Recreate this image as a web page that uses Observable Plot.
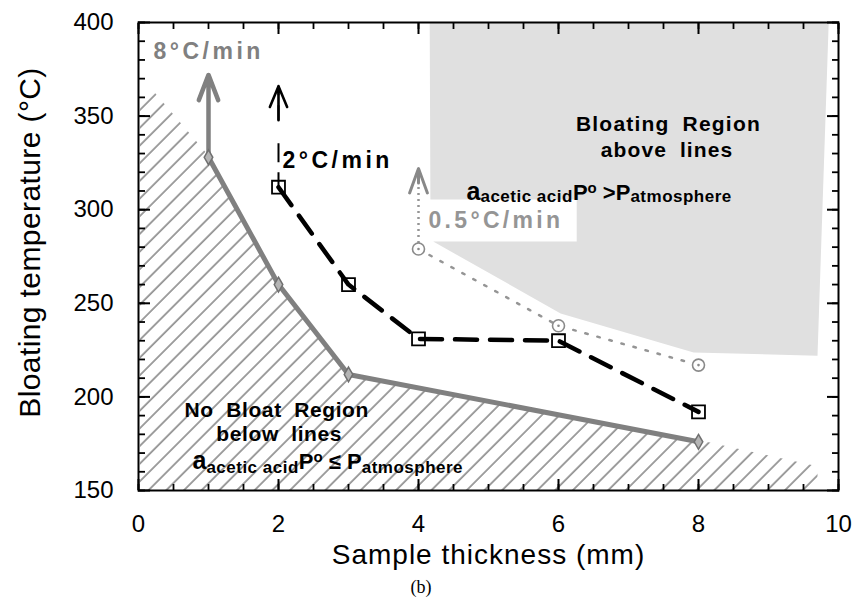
<!DOCTYPE html>
<html><head><meta charset="utf-8">
<script src="https://cdn.jsdelivr.net/npm/d3@7"></script>
<script src="https://cdn.jsdelivr.net/npm/@observablehq/plot@0.6"></script>
<style>
body{margin:0;background:#fff;}
#wrap{position:relative;width:857px;height:606px;background:#fff;}
#cap{position:absolute;left:0;top:577px;width:842px;text-align:center;font:18px "Liberation Serif","DejaVu Serif",serif;color:#000;}
</style></head><body><div id="wrap"><div id="chart"></div><div id="cap">(b)</div></div>
<script>
// ---- data ----
const thickness8 = [1, 2, 3, 8];
const temp8 = [328, 260, 212, 176];
const thickness2 = [2, 3, 4, 6, 8];
const temp2 = [312, 260, 231, 230, 192];
const thickness05 = [4, 6, 8];
const temp05 = [279, 238, 217];
const arrowThickness = [1, 2, 4];
const arrowFrom = [328, 312, 279];
const arrowTo = [372, 366, 322];
const rateLabels = ["8°C/min", "2°C/min", "0.5°C/min"];
const bloatRegionX = [4.16, 4.17, 6.26, 6.26, 4.21, 6.03, 7.93, 9.7, 9.86];
const bloatRegionY = [400, 305.4, 305.4, 283, 283, 244.6, 223.7, 222, 400];
const noBloatX = [0.02, 0.02, 0.2, 1, 2, 3, 8, 9.7, 9.7];
const noBloatY = [150, 356, 364, 329, 261, 213, 177, 163, 150];
const xMajor = [0, 2, 4, 6, 8, 10];
const xMinor = d3.range(0, 10.001, 0.5);
const yMajor = [150, 200, 250, 300, 350, 400];
const yMinor = d3.range(150, 400.001, 10);
const formulaAbove = ["a", "acetic acid", "P", "o", " >", "P", "atmosphere"];
const formulaBelow = ["a", "acetic acid", "P", "o", " \u2264 ", "P", "atmosphere"];
const formulaRoles = ["a", "sub", "base", "sup", "base", "base", "sub"];

const s8 = thickness8.map((x, i) => ({x, y: temp8[i]}));
const s2 = thickness2.map((x, i) => ({x, y: temp2[i]}));
const s05 = thickness05.map((x, i) => ({x, y: temp05[i]}));
const arrows = arrowThickness.map((x, i) => ({x, y1: arrowFrom[i], y2: arrowTo[i]}));
const bloat = bloatRegionX.map((x, i) => ({x, y: bloatRegionY[i]}));
const noBloat = noBloatX.map((x, i) => ({x, y: noBloatY[i]}));

const gray8 = "#808080", gray05 = "#959595";
const blank = () => "";

const svg = Plot.plot({
  width: 857, height: 575,
  marginLeft: 138, marginRight: 19, marginTop: 22, marginBottom: 85,
  x: {domain: [0, 10], label: null},
  y: {domain: [150, 400], label: null},
  style: {fontFamily: "'Liberation Sans', Arial, Helvetica, sans-serif", background: "#fff", color: "#000"},
  marks: [
    Plot.line(bloat, {x: "x", y: "y", fill: "#e0e0e0", stroke: null}),
    Plot.line(noBloat, {x: "x", y: "y", fill: "url(#hatch)", stroke: null}),
    // inward ticks on all four sides
    Plot.axisX({anchor: "bottom", ticks: xMinor, tickSize: -6, tickFormat: blank, label: null, strokeWidth: 1.8}),
    Plot.axisX({anchor: "bottom", ticks: xMajor, tickSize: -11, tickFormat: blank, label: null, strokeWidth: 2}),
    Plot.axisX({anchor: "top", ticks: xMinor, tickSize: -6, tickFormat: blank, label: null, strokeWidth: 1.8}),
    Plot.axisX({anchor: "top", ticks: xMajor, tickSize: -11, tickFormat: blank, label: null, strokeWidth: 2}),
    Plot.axisY({anchor: "left", ticks: yMinor, tickSize: -7, tickFormat: blank, label: null, strokeWidth: 1.8}),
    Plot.axisY({anchor: "left", ticks: yMajor, tickSize: -12, tickFormat: blank, label: null, strokeWidth: 2}),
    Plot.axisY({anchor: "right", ticks: yMinor, tickSize: -7, tickFormat: blank, label: null, strokeWidth: 1.8}),
    Plot.axisY({anchor: "right", ticks: yMajor, tickSize: -12, tickFormat: blank, label: null, strokeWidth: 2}),
    Plot.axisX({anchor: "bottom", ticks: xMajor, tickSize: 0, tickPadding: 24, fontSize: 24, label: null}),
    Plot.axisY({anchor: "left", ticks: yMajor, tickSize: 0, tickPadding: 25, fontSize: 24, label: null}),
    Plot.frame({stroke: "#000", strokeWidth: 2}),
    // 0.5 C/min
    Plot.line(s05, {x: "x", y: "y", stroke: gray05, strokeWidth: 2.5, strokeDasharray: "2.5,10"}),
    Plot.link([arrows[2]], {x1: "x", x2: "x", y1: "y1", y2: "y2", stroke: gray05, strokeWidth: 2.5, strokeDasharray: "2,4"}),
    Plot.arrow([arrows[2]], {x: "x", y1: "y1", y2: "y2", stroke: "#888", strokeWidth: 3, headLength: 13, headAngle: 40, insetStart: 66}),
    Plot.dot(s05, {x: "x", y: "y", r: 6, stroke: "#8a8a8a", strokeWidth: 1.6, fill: "#fff"}),
    Plot.dot(s05, {x: "x", y: "y", r: 1.3, fill: "#8a8a8a"}),
    // 2 C/min
    Plot.line(s2, {x: "x", y: "y", stroke: "#000", strokeWidth: 4.5, strokeDasharray: "22,13"}),
    Plot.link([arrows[1]], {x1: "x", x2: "x", y1: "y1", y2: "y2", stroke: "#000", strokeWidth: 2, strokeDasharray: "15,10,19,23"}),
    Plot.arrow([arrows[1]], {x: "x", y1: "y1", y2: "y2", stroke: "#000", strokeWidth: 2.6, headLength: 13, headAngle: 45, insetStart: 67}),
    Plot.dot(s2, {x: "x", y: "y", symbol: "square", r: 7.3, stroke: "#000", strokeWidth: 1.8, fill: "none"}),
    // 8 C/min
    Plot.line(s8, {x: "x", y: "y", stroke: gray8, strokeWidth: 5}),
    Plot.arrow([arrows[0]], {x: "x", y1: "y1", y2: "y2", stroke: gray8, strokeWidth: 4.5, headLength: 9, headAngle: 42}),
    Plot.dot(s8, {x: "x", y: "y", symbol: "diamond", r: 4.5, fill: "#b5b5b5", stroke: "#707070", strokeWidth: 1.5}),
    // rate labels
    Plot.text([rateLabels[0]], {x: 0.214, y: 380.6, text: d => d, textAnchor: "start", lineAnchor: "bottom", fontSize: 23, fontWeight: "bold", fill: gray8}),
    Plot.text([rateLabels[1]], {x: 2.057, y: 322.5, text: d => d, textAnchor: "start", lineAnchor: "bottom", fontSize: 23, fontWeight: "bold", fill: "#000"}),
    Plot.text([rateLabels[2]], {x: 4.143, y: 290.0, text: d => d, textAnchor: "start", lineAnchor: "bottom", fontSize: 23, fontWeight: "bold", fill: gray05}),
    // region labels
    Plot.text(["Bloating Region"], {x: 7.571, y: 342.3, text: d => d, lineAnchor: "bottom", fontSize: 21, fontWeight: "bold"}),
    Plot.text(["above lines"], {x: 7.55, y: 328.4, text: d => d, lineAnchor: "bottom", fontSize: 21, fontWeight: "bold"}),
    Plot.text([formulaAbove.join("")], {x: 4.686, y: 305.0, text: d => d, textAnchor: "start", lineAnchor: "bottom", fontSize: 22, fontWeight: "bold"}),
    Plot.text(["No Bloat Region"], {x: 1.975, y: 189, text: d => d, lineAnchor: "bottom", fontSize: 21, fontWeight: "bold"}),
    Plot.text(["below lines"], {x: 2.01, y: 176.7, text: d => d, lineAnchor: "bottom", fontSize: 21, fontWeight: "bold"}),
    Plot.text([formulaBelow.join("")], {x: 0.771, y: 161.75, text: d => d, textAnchor: "start", lineAnchor: "bottom", fontSize: 22, fontWeight: "bold"}),
    // axis titles
    Plot.text(["Sample thickness (mm)"], {frameAnchor: "bottom", dy: 73, textAnchor: "middle", lineAnchor: "bottom", fontSize: 28, text: d => d}),
    Plot.text(["Bloating temperature (°C)"], {frameAnchor: "left", dx: -99, dy: -14, rotate: -90, textAnchor: "middle", lineAnchor: "bottom", fontSize: 30, text: d => d})
  ]
});

// hatch pattern
d3.select(svg).insert("defs", ":first-child").html(
  '<pattern id="hatch" patternUnits="userSpaceOnUse" width="12.5" height="12.5" patternTransform="rotate(45)">' +
  '<line x1="1" y1="0" x2="1" y2="12.5" stroke="#2a2a2a" stroke-width="0.9"/></pattern>');

// text spacing tweaks
const spacing = {
  "8°C/min": [3.5, 0], "2°C/min": [3.5, 0], "0.5°C/min": [3.3, 0],
  "Bloating Region": [1.2, 6], "above lines": [1.1, 6],
  "No Bloat Region": [0.6, 6], "below lines": [0.6, 6],
  "Sample thickness (mm)": [1, 0], "Bloating temperature (°C)": [0.4, 0]
};
function setFormula(el, parts, subShift) {
  el.textContent = "";
  el.style.whiteSpace = "pre";
  let cur = 0;
  parts.forEach((p, i) => {
    const role = formulaRoles[i];
    const target = role === "sub" ? subShift : role === "sup" ? -7 : 0;
    const size = role === "a" ? 25 : role === "sub" ? 17 : role === "sup" ? 15 : 22;
    const ts = document.createElementNS("http://www.w3.org/2000/svg", "tspan");
    ts.setAttribute("dy", target - cur);
    ts.setAttribute("font-size", size);
    if (role === "sub") ts.setAttribute("letter-spacing", "0.5");
    ts.textContent = p;
    cur = target;
    el.appendChild(ts);
  });
}
svg.querySelectorAll("text").forEach(el => {
  const t = el.textContent;
  if (spacing[t]) {
    el.style.letterSpacing = spacing[t][0] + "px";
    el.style.wordSpacing = spacing[t][1] + "px";
  } else if (t === formulaAbove.join("")) setFormula(el, formulaAbove, 2);
  else if (t === formulaBelow.join("")) setFormula(el, formulaBelow, 4);
});

document.getElementById("chart").appendChild(svg);
</script></body></html>
